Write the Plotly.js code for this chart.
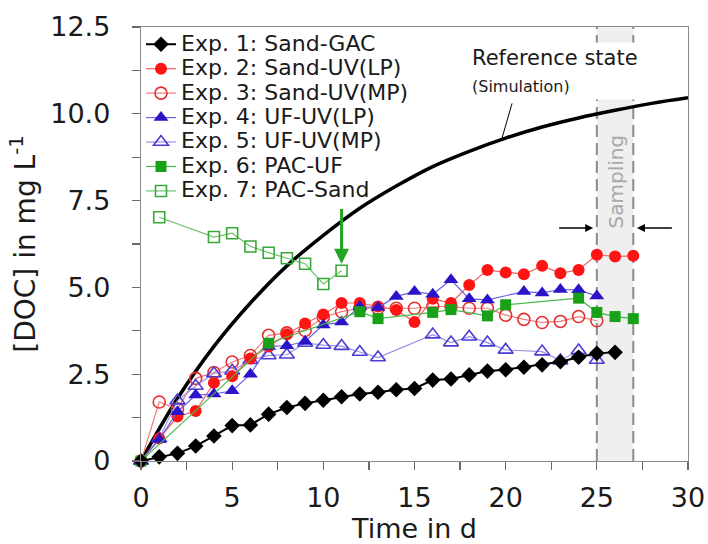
<!DOCTYPE html>
<html>
<head>
<meta charset="utf-8">
<script src="https://cdn.plot.ly/plotly-3.0.1.min.js"></script>
<style>html,body{margin:0;padding:0;background:#fff;}#chart{width:708px;height:544px;}</style>
</head>
<body>
<div id="chart"></div>
<script>
// ---- data ----
var exp1Days = [0,1,2,3,4,5,6,7,8,9,10,11,12,13,14,15,16,17,18,19,20,21,22,23,24,25,26];
var exp1DOC  = [0,0.12,0.22,0.43,0.72,1.02,1.04,1.35,1.54,1.66,1.75,1.85,1.93,1.98,2.05,2.09,2.33,2.36,2.48,2.59,2.63,2.70,2.77,2.86,2.99,3.10,3.13];

var exp2Days = [0,1,2,3,4,5,6,7,8,9,10,11,12,13,14,15,16,17,18,19,20,21,22,23,24,25,26,27];
var exp2DOC  = [0,0.65,1.28,1.44,2.25,2.44,2.95,3.3,3.65,3.96,4.22,4.55,4.55,4.45,4.35,4.0,4.67,4.55,5.07,5.5,5.43,5.38,5.62,5.41,5.5,5.94,5.89,5.91];

var exp3Days = [0,1,2,3,4,5,6,7,8,9,10,11,12,13,14,15,16,17,18,19,20,21,22,23,24,25];
var exp3DOC  = [0,1.70,1.5,2.38,2.55,2.85,3.04,3.62,3.69,3.76,4.14,4.30,4.40,4.40,4.40,4.40,4.45,4.45,4.40,4.40,4.20,4.08,3.99,4.02,4.16,4.04];

var exp4Days = [0,1,2,3,4,5,6,7,8,9,10,11,12,13,14,15,16,17,18,19,21,22,23,24,25];
var exp4DOC  = [0,0.62,1.42,1.90,1.93,2.02,2.50,3.30,3.32,3.44,3.92,4.00,4.45,4.42,4.74,4.88,4.80,5.22,4.67,4.64,4.88,4.84,4.94,4.93,4.75];

var exp5Days = [0,1,2,3,4,5,6,7,8,9,10,11,12,13,16,17,18,19,20,22,23,24,25];
var exp5DOC  = [0,0.65,1.74,2.16,2.52,2.60,2.90,3.04,3.06,3.40,3.34,3.31,3.14,2.98,3.64,3.41,3.58,3.41,3.20,3.15,2.89,3.18,2.91];

var exp6Days = [0,7,12,13,16,17,19,20,24,25,26,27];
var exp6DOC  = [0,3.39,4.30,4.10,4.28,4.36,4.18,4.50,4.69,4.28,4.16,4.10];

var exp7Days = [1,4,5,6,7,8,9,10,11];
var exp7DOC  = [7.02,6.45,6.56,6.18,6.00,5.84,5.68,5.10,5.48];

var simDays = [0,2,4,6,8,10,12,14,16,18,20,22,24,26,28,30];
var simDOC  = [0,1.80,3.30,4.55,5.62,6.50,7.28,7.92,8.48,8.92,9.30,9.62,9.88,10.10,10.30,10.46];

var seriesNames = ['Exp. 1: Sand-GAC','Exp. 2: Sand-UV(LP)','Exp. 3: Sand-UV(MP)','Exp. 4: UF-UV(LP)','Exp. 5: UF-UV(MP)','Exp. 6: PAC-UF','Exp. 7: PAC-Sand'];

var xTickVals = [0,5,10,15,20,25,30];
var xTickText = ['0','5','10','15','20','25','30'];
var yTickVals = [0,2.5,5,7.5,10,12.5];
var yTickText = ['0','2.5','5.0','7.5','10.0','12.5'];

// ---- chart ----
var FONT = 'DejaVu Sans, Liberation Sans, Arial, sans-serif';
function nm(i){ return '<span style="font-size:22px">' + seriesNames[i] + '</span>'; }

var traces = [
  {x: simDays, y: simDOC, mode: 'lines', line: {color: '#000', width: 3.5, shape: 'spline'}, showlegend: false, hoverinfo: 'skip'},
  {x: exp7Days, y: exp7DOC, name: nm(6), legendrank: 7, mode: 'lines+markers', cliponaxis: false,
   line: {color: '#6cc46c', width: 1.2}, marker: {symbol: 'square-open', size: 11, color: '#38a838', line: {width: 1.6}}},
  {x: exp3Days, y: exp3DOC, name: nm(2), legendrank: 3, mode: 'lines+markers', cliponaxis: false,
   line: {color: '#f07a7a', width: 1.2}, marker: {symbol: 'circle-open', size: 12, color: '#e63030', line: {width: 1.6}}},
  {x: exp5Days, y: exp5DOC, name: nm(4), legendrank: 5, mode: 'lines+markers', cliponaxis: false,
   line: {color: '#9a92ea', width: 1.2}, marker: {symbol: 'triangle-up-open', size: 13, color: '#4a3cd2', line: {width: 1.6}}},
  {x: exp2Days, y: exp2DOC, name: nm(1), legendrank: 2, mode: 'lines+markers', cliponaxis: false,
   line: {color: '#f06060', width: 1.2}, marker: {symbol: 'circle', size: 12, color: '#ff1414'}},
  {x: exp4Days, y: exp4DOC, name: nm(3), legendrank: 4, mode: 'lines+markers', cliponaxis: false,
   line: {color: '#6c60e2', width: 1.2}, marker: {symbol: 'triangle-up', size: 13, color: '#2a14c8'}},
  {x: exp6Days, y: exp6DOC, name: nm(5), legendrank: 6, mode: 'lines+markers', cliponaxis: false,
   line: {color: '#4cb84c', width: 1.2}, marker: {symbol: 'square', size: 11, color: '#18a018'}},
  {x: exp1Days, y: exp1DOC, name: nm(0), legendrank: 1, mode: 'lines+markers', cliponaxis: false,
   line: {color: '#000', width: 2}, marker: {symbol: 'diamond', size: 12, color: '#000'}}
];

var axisCommon = {
  showgrid: false, zeroline: false, showline: true, mirror: true,
  linecolor: '#8a8a8a', linewidth: 1.2,
  ticks: 'outside', ticklen: 8, tickcolor: '#6a6a6a', tickwidth: 1.2,
  tickfont: {family: FONT, size: 27, color: '#1a1a1a'}
};

var layout = {
  width: 708, height: 544,
  margin: {l: 141, r: 20, t: 27, b: 83},
  paper_bgcolor: '#fff', plot_bgcolor: '#fff',
  font: {family: FONT, color: '#1a1a1a'},
  xaxis: Object.assign({}, axisCommon, {
    range: [0, 30], tickmode: 'array', tickvals: xTickVals, ticktext: xTickText,
    ticklabelstandoff: 4,
    minor: {tickmode: 'linear', tick0: 0, dtick: 2.5, ticks: 'outside', ticklen: 8, tickcolor: '#6a6a6a', tickwidth: 1.2},
    title: {text: 'Time in d', font: {family: FONT, size: 27, color: '#1a1a1a'}, standoff: 9}
  }),
  yaxis: Object.assign({}, axisCommon, {
    range: [0, 12.5], tickmode: 'array', tickvals: yTickVals, ticktext: yTickText,
    ticklabelstandoff: 16,
    minor: {tickmode: 'linear', tick0: 0, dtick: 1.25, ticks: 'outside', ticklen: 8, tickcolor: '#6a6a6a', tickwidth: 1.2},
    title: {text: '[DOC] in mg L<sup>-1</sup>', font: {family: FONT, size: 28, color: '#1a1a1a'}, standoff: 6}
  }),
  legend: {
    x: 0, y: 1, xanchor: 'left', yanchor: 'top', bgcolor: 'rgba(0,0,0,0)',
    font: {family: FONT, size: 16.5, color: '#1a1a1a'}, itemwidth: 30, traceorder: 'normal'
  },
  shapes: [
    {type: 'rect', xref: 'x', yref: 'y', x0: 25, x1: 27, y0: 0, y1: 12.5, fillcolor: '#efefef', line: {width: 0}, layer: 'below'},
    {type: 'line', xref: 'x', yref: 'y', x0: 25, x1: 25, y0: 0, y1: 12.5, line: {color: '#8c8c8c', width: 2, dash: '12px,6px'}, layer: 'below'},
    {type: 'line', xref: 'x', yref: 'y', x0: 27, x1: 27, y0: 0, y1: 12.5, line: {color: '#8c8c8c', width: 2, dash: '12px,6px'}, layer: 'below'},
    {type: 'line', xref: 'x', yref: 'y', x0: 20.35, x1: 19.8, y0: 10.3, y1: 9.3, line: {color: '#000', width: 1}}
  ],
  annotations: [
    {xref: 'x', yref: 'y', x: 17.95, y: 11.23, xanchor: 'left', yanchor: 'middle', align: 'left', showarrow: false,
     text: 'Reference state<br><span style="font-size:16px">(Simulation)</span>',
     font: {family: FONT, size: 21, color: '#1a1a1a'}, bgcolor: '#ffffff', borderpad: 3},
    {xref: 'x', yref: 'y', x: 26.05, y: 8.05, showarrow: false, textangle: -90, text: 'Sampling',
     font: {family: FONT, size: 20, color: '#a8a8a8'}},
    {xref: 'x', yref: 'y', axref: 'x', ayref: 'y', x: 24.8, y: 6.71, ax: 22.85, ay: 6.71, text: '', showarrow: true,
     arrowhead: 2, arrowsize: 1, arrowwidth: 1.6, arrowcolor: '#000'},
    {xref: 'x', yref: 'y', axref: 'x', ayref: 'y', x: 27.2, y: 6.71, ax: 29.2, ay: 6.71, text: '', showarrow: true,
     arrowhead: 2, arrowsize: 1, arrowwidth: 1.6, arrowcolor: '#000'},
    {xref: 'x', yref: 'y', axref: 'x', ayref: 'y', x: 11, y: 5.68, ax: 11, ay: 7.3, text: '', showarrow: true,
     arrowhead: 2, arrowsize: 1, arrowwidth: 3, arrowcolor: '#1fa51f'}
  ]
};

Plotly.newPlot('chart', traces, layout, {displayModeBar: false, staticPlot: true});
</script>
</body>
</html>
